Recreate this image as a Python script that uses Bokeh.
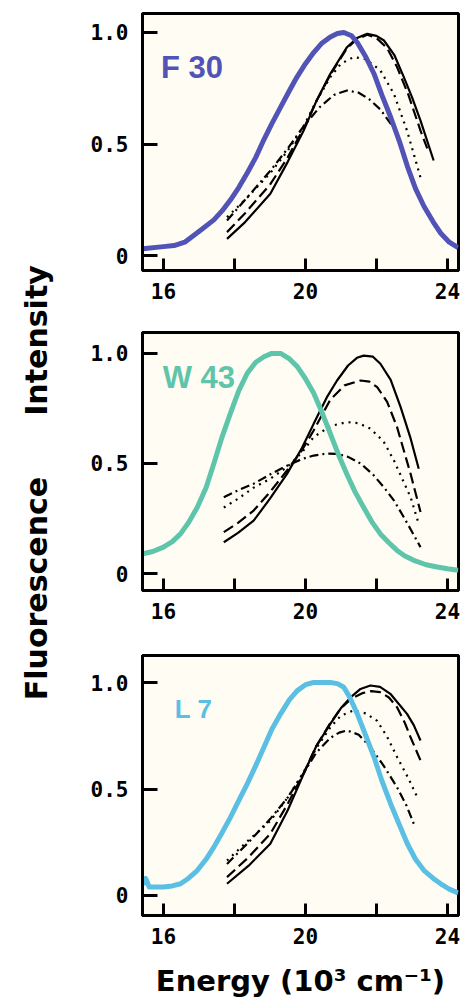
from bokeh.plotting import figure
from bokeh.models import Range1d, FixedTicker
from bokeh.layouts import row, column
from bokeh.core.properties import value
from bokeh.embed import file_html
from bokeh.resources import INLINE

# ---------------- data ----------------
panel_names = ["F 30", "W 43", "L 7"]
panel_colors = ["#5253B6", "#5EC4AA", "#5BBEE3"]

# F30 panel
f30_x = [15.42, 16.0, 16.3, 16.6, 16.85, 17.1, 17.42, 17.65, 17.89, 18.12, 18.36, 18.6, 18.83, 19.05, 19.3,
         19.55, 19.76, 20.0, 20.23, 20.45, 20.7, 20.9, 21.08, 21.3, 21.46, 21.7, 21.93, 22.15, 22.4, 22.65,
         22.87, 23.1, 23.34, 23.6, 23.81, 24.05, 24.3]
f30_y = [0.03, 0.04, 0.045, 0.06, 0.09, 0.12, 0.16, 0.20, 0.25, 0.305, 0.37, 0.44, 0.52, 0.59, 0.665,
         0.74, 0.80, 0.86, 0.91, 0.95, 0.98, 0.995, 1.0, 0.985, 0.955, 0.89, 0.815, 0.72, 0.62, 0.51,
         0.40, 0.30, 0.22, 0.15, 0.10, 0.06, 0.035]
f30_solid_x = [17.79, 18.3, 19.01, 19.5, 19.95, 20.3, 20.7, 21.17, 21.45, 21.74, 22.0, 22.21, 22.5, 22.77, 23.0, 23.24, 23.61]
f30_solid_y = [0.075, 0.15, 0.277, 0.42, 0.56, 0.69, 0.815, 0.934, 0.975, 0.994, 0.985, 0.964, 0.90, 0.80, 0.71, 0.605, 0.426]
f30_dash_x = [17.79, 18.3, 19.01, 19.5, 19.95, 20.3, 20.7, 21.17, 21.45, 21.74, 22.0, 22.3, 22.58, 22.9, 23.24, 23.43]
f30_dash_y = [0.105, 0.19, 0.32, 0.44, 0.57, 0.69, 0.81, 0.93, 0.97, 0.99, 0.975, 0.93, 0.845, 0.72, 0.56, 0.48]
f30_dot_x = [17.79, 18.3, 19.01, 19.5, 19.95, 20.3, 20.7, 21.0, 21.36, 21.7, 22.11, 22.49, 22.86, 23.24]
f30_dot_y = [0.172, 0.25, 0.37, 0.47, 0.58, 0.69, 0.80, 0.86, 0.89, 0.88, 0.83, 0.725, 0.56, 0.35]
f30_dd_x = [17.79, 18.3, 19.01, 19.5, 19.95, 20.4, 20.8, 21.17, 21.5, 21.8, 22.11, 22.45]
f30_dd_y = [0.157, 0.25, 0.38, 0.48, 0.58, 0.665, 0.72, 0.74, 0.73, 0.70, 0.655, 0.58]

# W43 panel
w43_x = [15.42, 15.7, 16.0, 16.25, 16.48, 16.7, 16.95, 17.2, 17.42, 17.65, 17.89, 18.12, 18.36, 18.6, 18.83, 19.05,
         19.3, 19.55, 19.77, 20.0, 20.23, 20.47, 20.7, 20.93, 21.17, 21.4, 21.64, 21.87, 22.11, 22.35, 22.58,
         22.8, 23.05, 23.4, 23.71, 24.0, 24.3]
w43_y = [0.09, 0.10, 0.12, 0.145, 0.18, 0.23, 0.30, 0.39, 0.50, 0.62, 0.73, 0.83, 0.91, 0.96, 0.985, 1.0,
         1.0, 0.975, 0.94, 0.885, 0.82, 0.73, 0.635, 0.54, 0.45, 0.37, 0.30, 0.235, 0.18, 0.14, 0.105,
         0.08, 0.06, 0.04, 0.03, 0.022, 0.015]
w43_solid_x = [17.70, 18.1, 18.54, 19.0, 19.48, 19.9, 20.23, 20.6, 20.89, 21.2, 21.45, 21.64, 21.9, 22.11, 22.4, 22.68, 22.95, 23.19]
w43_solid_y = [0.142, 0.185, 0.24, 0.34, 0.453, 0.57, 0.68, 0.80, 0.877, 0.945, 0.98, 0.99, 0.985, 0.953, 0.88, 0.756, 0.62, 0.476]
w43_dash_x = [17.70, 18.1, 18.54, 19.0, 19.48, 19.9, 20.23, 20.7, 21.1, 21.55, 21.8, 22.02, 22.3, 22.58, 22.96, 23.24]
w43_dash_y = [0.188, 0.23, 0.286, 0.37, 0.468, 0.56, 0.65, 0.79, 0.855, 0.877, 0.872, 0.847, 0.78, 0.665, 0.453, 0.28]
w43_dot_x = [17.70, 18.1, 18.54, 19.0, 19.48, 19.9, 20.23, 20.7, 21.17, 21.5, 21.83, 22.2, 22.49, 22.96, 23.19]
w43_dot_y = [0.30, 0.34, 0.39, 0.43, 0.483, 0.55, 0.62, 0.67, 0.688, 0.683, 0.658, 0.60, 0.514, 0.347, 0.226]
w43_dd_x = [17.70, 18.1, 18.54, 19.0, 19.48, 19.9, 20.23, 20.6, 20.89, 21.2, 21.55, 21.9, 22.21, 22.5, 22.77, 23.0, 23.24]
w43_dd_y = [0.347, 0.378, 0.408, 0.45, 0.49, 0.52, 0.536, 0.545, 0.544, 0.53, 0.50, 0.45, 0.392, 0.33, 0.256, 0.19, 0.12]

# L7 panel
l7_x = [15.42, 15.5, 15.6, 16.0, 16.25, 16.48, 16.7, 16.95, 17.2, 17.42, 17.65, 17.89, 18.12, 18.36, 18.6, 18.83,
        19.05, 19.3, 19.55, 19.77, 20.0, 20.23, 20.7, 20.9, 21.08, 21.25, 21.46, 21.7, 21.93, 22.15, 22.4,
        22.65, 22.87, 23.1, 23.34, 23.6, 23.81, 24.05, 24.3]
l7_y = [0.05, 0.08, 0.04, 0.04, 0.045, 0.055, 0.08, 0.117, 0.17, 0.227, 0.295, 0.368, 0.445, 0.524, 0.61, 0.696,
        0.78, 0.853, 0.92, 0.962, 0.99, 1.0, 1.0, 0.995, 0.978, 0.93, 0.853, 0.75, 0.65, 0.54, 0.43,
        0.33, 0.243, 0.17, 0.117, 0.08, 0.055, 0.03, 0.012]
l7_solid_x = [17.79, 18.4, 19.01, 19.5, 19.95, 20.3, 20.7, 21.0, 21.27, 21.55, 21.83, 22.1, 22.39, 22.6, 22.86, 23.05, 23.24]
l7_solid_y = [0.055, 0.14, 0.243, 0.40, 0.571, 0.70, 0.806, 0.88, 0.93, 0.97, 0.986, 0.98, 0.947, 0.905, 0.853, 0.80, 0.728]
l7_dash_x = [17.79, 18.4, 19.01, 19.5, 19.95, 20.3, 20.7, 21.0, 21.3, 21.6, 21.85, 22.1, 22.35, 22.58, 22.8, 22.96, 23.24]
l7_dash_y = [0.086, 0.18, 0.29, 0.43, 0.575, 0.70, 0.81, 0.88, 0.925, 0.95, 0.96, 0.955, 0.93, 0.884, 0.81, 0.743, 0.634]
l7_dot_x = [17.79, 18.4, 19.01, 19.5, 19.95, 20.3, 20.7, 21.0, 21.36, 21.7, 22.02, 22.3, 22.58, 22.9, 23.15]
l7_dot_y = [0.164, 0.26, 0.35, 0.46, 0.58, 0.69, 0.79, 0.845, 0.869, 0.855, 0.82, 0.745, 0.65, 0.55, 0.461]
l7_dd_x = [17.79, 18.4, 19.01, 19.5, 19.95, 20.3, 20.7, 20.95, 21.17, 21.5, 21.83, 22.2, 22.58, 22.85, 23.05]
l7_dd_y = [0.148, 0.25, 0.36, 0.46, 0.575, 0.67, 0.74, 0.765, 0.775, 0.755, 0.696, 0.61, 0.508, 0.42, 0.337]

x_major = [16, 20, 24]
x_minor = [18, 22]
y_ticks = [0, 0.5, 1.0]
y_tick_labels = {0: "0", 0.5: "0.5", 1: "1.0"}
x_title = "Energy (10³ cm⁻¹)"
y_title_words = ["Fluorescence", "Intensity"]

label_pos = [(15.93, 0.843, "31px"), (15.98, 0.891, "31px"), (16.32, 0.878, "26px")]

# ---------------- layout ----------------
FONT_TICK = "DejaVu Sans Mono"
LAB_W = 58
W = 403
specs = [
    # height, border_top, border_bottom, y_start, y_end
    (318, 13, 48, -0.067, 1.085),
    (322, 14, 50, -0.077, 1.095),
    (360, 15, 85, -0.094, 1.127),
]

colored = [(f30_x, f30_y), (w43_x, w43_y), (l7_x, l7_y)]
blacks = [
    [(f30_solid_x, f30_solid_y), (f30_dash_x, f30_dash_y), (f30_dot_x, f30_dot_y), (f30_dd_x, f30_dd_y)],
    [(w43_solid_x, w43_solid_y), (w43_dash_x, w43_dash_y), (w43_dot_x, w43_dot_y), (w43_dd_x, w43_dd_y)],
    [(l7_solid_x, l7_solid_y), (l7_dash_x, l7_dash_y), (l7_dot_x, l7_dot_y), (l7_dd_x, l7_dd_y)],
]
dashes = ["solid", "11 5", "2 5", "9 4 2 4"]

panels = []
for i in range(3):
    h, bt, bb, y0, y1 = specs[i]
    p = figure(width=W, height=h, output_backend="svg", toolbar_location=None,
               x_range=Range1d(15.41, 24.31), y_range=Range1d(y0, y1),
               min_border_left=84, min_border_right=3, min_border_top=bt, min_border_bottom=bb)
    p.background_fill_color = "#FFFDF3"
    p.border_fill_color = "white"
    p.outline_line_color = "black"
    p.outline_line_width = 3
    p.xgrid.visible = False
    p.ygrid.visible = False

    for (bx, by), d in zip(blacks[i], dashes):
        p.line(bx, by, line_color="black", line_width=2.2, line_dash=d)
    cx, cy = colored[i]
    p.line(cx, cy, line_color=panel_colors[i], line_width=5, line_join="round")

    lx, ly, lsize = label_pos[i]
    p.text(x=[lx], y=[ly], text=[panel_names[i]], text_color=panel_colors[i],
           text_font=value("Liberation Sans"), text_font_style="bold",
           text_font_size=lsize, text_baseline="alphabetic", text_align="left")

    xa = p.xaxis[0]
    xa.ticker = FixedTicker(ticks=x_major, minor_ticks=x_minor)
    xa.axis_line_width = 3
    xa.major_tick_line_width = 3
    xa.minor_tick_line_width = 3
    xa.major_tick_in = 12
    xa.major_tick_out = 0
    xa.minor_tick_in = 12
    xa.minor_tick_out = 0
    xa.major_label_standoff = 12
    xa.major_label_text_font = FONT_TICK
    xa.major_label_text_font_style = "bold"
    xa.major_label_text_font_size = "21px"
    xa.major_label_text_color = "black"

    ya = p.yaxis[0]
    ya.ticker = FixedTicker(ticks=y_ticks)
    ya.major_label_overrides = y_tick_labels
    ya.axis_line_width = 3
    ya.major_tick_line_width = 3
    ya.major_tick_in = 15
    ya.major_tick_out = 0
    ya.minor_tick_line_color = None
    ya.major_label_standoff = 14
    ya.major_label_text_font = FONT_TICK
    ya.major_label_text_font_style = "bold"
    ya.major_label_text_font_size = "21px"
    ya.major_label_text_color = "black"

    if i == 2:
        xa.axis_label = x_title
        xa.axis_label_text_font = "DejaVu Sans"
        xa.axis_label_text_font_style = "bold"
        xa.axis_label_text_font_size = "29px"
        xa.axis_label_text_color = "black"
        xa.axis_label_standoff = 17
    panels.append(p)

total_h = sum(s[0] for s in specs)
ylab = figure(width=LAB_W, height=total_h, output_backend="svg", toolbar_location=None,
              x_range=Range1d(0, LAB_W), y_range=Range1d(0, total_h),
              min_border=0)
ylab.axis.visible = False
ylab.grid.visible = False
ylab.outline_line_color = None
ylab.background_fill_color = "white"
ylab.text(x=[36, 36], y=[total_h - 588, total_h - 340], text=y_title_words, angle=1.5707963,
          text_font=value("DejaVu Sans"), text_font_style="bold", text_font_size="30px",
          text_align="center", text_baseline="middle", text_color="black")

layout = row(ylab, column(*panels))
open("out.html", "w").write(file_html(layout, INLINE))
